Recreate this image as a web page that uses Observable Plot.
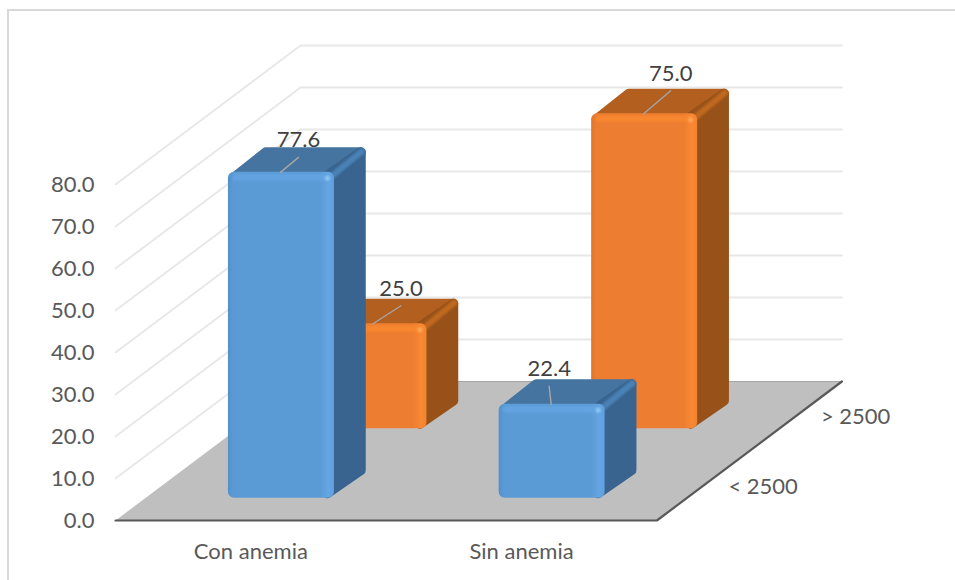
<!DOCTYPE html>
<html>
<head>
<meta charset="utf-8">
<script src="https://cdn.jsdelivr.net/npm/d3@7"></script>
<script src="https://cdn.jsdelivr.net/npm/@observablehq/plot@0.6"></script>
<style>
  html, body { margin: 0; padding: 0; background: #fff; overflow: hidden; }
  #chart { position: relative; width: 955px; height: 580px; }
  #chart svg { position: absolute; left: 0; top: 0; }
  #frame { position: absolute; left: 7px; top: 9px; right: 0; bottom: 0;
           border-top: 2px solid #d9d9d9; border-left: 2px solid #d9d9d9; }
</style>
</head>
<body>
<div id="chart"><div id="frame"></div></div>
<script>
// Prevalence of anemia by birth weight group (percent)
const categories = ["Con anemia", "Sin anemia"];
const weightRows = ["< 2500", "> 2500"];
const lowWeightValues = [77.6, 22.4];
const highWeightValues = [25.0, 75.0];
const valueTicks = [0, 10, 20, 30, 40, 50, 60, 70, 80];

// Oblique projection: each depth unit shifts a point right and up in scale units.
const pxPerCategory = 270.7;
const pxPerValue = 4.2;
const depthX = 185 / pxPerCategory;
const depthY = 139 / pxPerValue;
const barWidth = 106 / pxPerCategory;
const barDepth = 0.18;
const font = "Lato, 'Open Sans', sans-serif";
const labelSize = 22;

const project = (cat, depth, value, dx = 0, dy = 0) => ({
  x: cat + depth * depthX + dx / pxPerCategory,
  y: value + depth * depthY - dy / pxPerValue
});

const palettes = {
  blue: {front: "url(#faceBlue)", top: "#44749f", side: "#38648f", edge: "#4b82b6", band: "#63a4e2", spot: "#8fc8f2"},
  orange: {front: "url(#faceOrange)", top: "#b25f1f", side: "#985219", edge: "#c0691f", band: "#f8872f", spot: "#ffa95a"}
};

// Pixel offset of each leader's far end from the centre of the bar's front top edge
const leaderEnds = [
  {cat: 0, row: 1, dx: 28, dy: -18},
  {cat: 0, row: 0, dx: 18, dy: -15},
  {cat: 1, row: 1, dx: 27, dy: -23},
  {cat: 1, row: 0, dx: -2, dy: -18}
];

const polygon = (points, fill, r = 5) =>
  Plot.line(points, {x: "x", y: "y", curve: "linear-closed", fill, stroke: fill, strokeWidth: 2 * r, strokeLinejoin: "round"});

function barMarks({cat, row, dx, dy}) {
  const value = (row === 0 ? lowWeightValues : highWeightValues)[cat];
  const colors = row === 0 ? palettes.blue : palettes.orange;
  const left = cat + 0.5 - barWidth / 2 + 1 / pxPerCategory;
  const right = left + barWidth;
  const d0 = (row + 0.5) / 2 - barDepth / 2;
  const d1 = d0 + barDepth;
  const tip = project(cat + 0.5, d0, value, dx, dy);
  const foot = project(cat + 0.5, d0, value);
  return [
    polygon([
      project(left, d0, value, 7, 4), project(left, d1, value, 4, 5),
      project(right, d1, value, -7, 5), project(right, d0, value, -6, 4)
    ], colors.top),
    polygon([
      project(right, d0, value, -7, 3), project(right, d1, value, -7, 5),
      project(right, d1, 0, -7, -3), project(right, d0, 0, -7, -5)
    ], colors.side),
    Plot.line([project(right, d0, value, -3, 4), project(right, d1, value, -6, 4)],
      {x: "x", y: "y", stroke: colors.edge, strokeWidth: 6, imageFilter: "blur(1.2px)"}),
    Plot.rect([0], {
      x1: () => project(left, d0, 0).x, x2: () => project(right, d0, 0).x,
      y1: () => project(left, d0, 0).y, y2: () => project(left, d0, value).y,
      fill: colors.front, rx: 6
    }),
    Plot.line([project(left, d0, value, 7, 5), project(right, d0, value, -7, 5)],
      {x: "x", y: "y", stroke: colors.band, strokeWidth: 6, imageFilter: "blur(1.5px)"}),
    Plot.dot([project(right, d0, value, -7, 6)],
      {x: "x", y: "y", r: 2.5, fill: colors.spot, imageFilter: "blur(1px)"}),
    Plot.line([foot, tip], {x: "x", y: "y", stroke: "#a6a6a6", strokeWidth: 1.4}),
    Plot.text([tip], {
      x: "x", y: "y", dy: -17, text: () => value.toFixed(1),
      fontFamily: font, fontSize: labelSize, fill: "#404040"
    })
  ];
}

const gridPaths = valueTicks.filter((v) => v > 0).flatMap((v) => [
  {tick: v, ...project(0, 0, v)},
  {tick: v, ...project(0, 1, v)},
  {tick: v, ...project(2, 1, v)}
]);

const gradients = () => {
  const defs = d3.create("svg:defs");
  const stops = {
    faceBlue: ["#5290cb", "#5b9bd5", "#5b9bd5", "#64a5e3", "#5f9fdc"],
    faceOrange: ["#e0752b", "#ed7d31", "#ed7d31", "#fa8933", "#f38231"]
  };
  for (const [id, colors] of Object.entries(stops)) {
    const g = defs.append("linearGradient").attr("id", id);
    [0, 0.05, 0.87, 0.95, 1].forEach((o, i) =>
      g.append("stop").attr("offset", o).attr("stop-color", colors[i]));
  }
  return defs.node();
};

const chart = Plot.plot({
  width: 955,
  height: 580,
  marginLeft: 94,
  marginRight: 0,
  marginTop: 0,
  marginBottom: 0,
  style: {background: "transparent", overflow: "visible"},
  x: {domain: [(94 - 115) / pxPerCategory, (955 - 115) / pxPerCategory], axis: null},
  y: {domain: [(520 - 580) / pxPerValue, 520 / pxPerValue], axis: null},
  marks: [
    gradients,
    Plot.line(gridPaths, {x: "x", y: "y", z: "tick", stroke: "#e8e8e8", strokeWidth: 2}),
    polygon([project(0, 0, 0), project(0, 1, 0), project(2, 1, 0), project(2, 0, 0)], "#bfbfbf", 0),
    Plot.line([project(0, 1, 0), project(2, 1, 0)], {x: "x", y: "y", stroke: "#a6a6a6", strokeWidth: 1}),
    Plot.line([project(0, 0, 0), project(2, 0, 0), project(2, 1, 0)],
      {x: "x", y: "y", stroke: "#595959", strokeWidth: 2.2}),
    ...leaderEnds.flatMap(barMarks),
    Plot.axisY({
      ticks: valueTicks, tickSize: 0, tickPadding: 0, label: null,
      tickFormat: (d) => d.toFixed(1), fontFamily: font, fontSize: labelSize, fill: "#595959", color: "#595959"
    }),
    Plot.text(categories, {
      x: (_, i) => i + 0.5, y: () => project(0, 0, 0, 0, 31).y, text: (d) => d,
      fontFamily: font, fontSize: labelSize, fill: "#595959"
    }),
    Plot.text(weightRows, {
      x: (_, i) => project(2, (i + 0.5) / 2, 0, 60, 1).x,
      y: (_, i) => project(2, (i + 0.5) / 2, 0, 60, 1).y,
      text: (d) => d,
      fontFamily: font, fontSize: labelSize, fill: "#595959"
    })
  ]
});

document.getElementById("chart").appendChild(chart);
</script>
</body>
</html>
